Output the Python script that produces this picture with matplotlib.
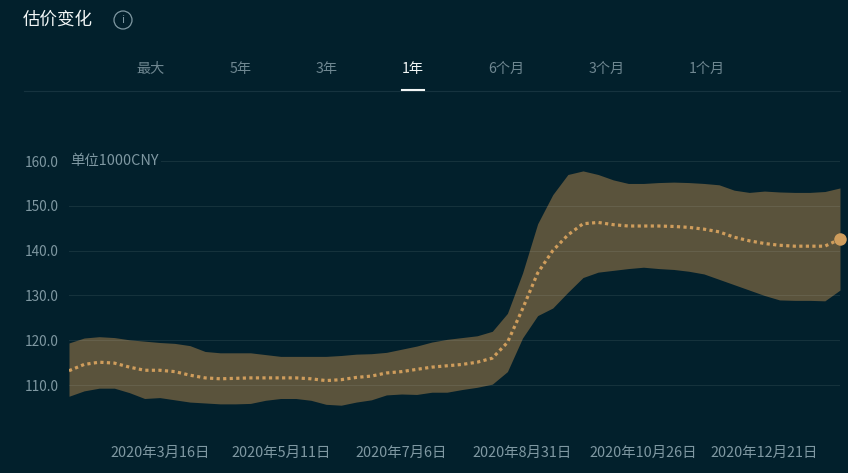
import matplotlib
matplotlib.use("Agg")
import matplotlib.pyplot as plt
import matplotlib.patches as mpatches
import pandas as pd

plt.rcParams["font.family"] = ["Noto Sans CJK SC", "DejaVu Sans"]

W, H = 848, 473
BG = "#02202c"

mid = [113.2, 114.6, 115.1, 114.9, 114.0, 113.3, 113.3, 113.0, 112.2, 111.6,
       111.4, 111.5, 111.6, 111.6, 111.6, 111.6, 111.4, 111.0, 111.2, 111.7,
       112.0, 112.7, 113.0, 113.5, 114.0, 114.3, 114.6, 115.1, 116.0, 119.5,
       127.0, 135.0, 140.0, 143.5, 146.0, 146.3, 145.8, 145.5, 145.5, 145.5,
       145.4, 145.2, 144.8, 144.2, 143.0, 142.2, 141.6, 141.2, 141.0, 141.0,
       141.0, 142.6]
upper = [119.4, 120.5, 120.8, 120.6, 120.1, 119.8, 119.5, 119.3, 118.8, 117.5,
         117.2, 117.2, 117.2, 116.8, 116.4, 116.4, 116.4, 116.4, 116.6, 116.9,
         117.0, 117.3, 118.0, 118.7, 119.6, 120.2, 120.6, 121.0, 122.0, 126.0,
         135.0, 146.0, 152.5, 157.0, 157.8, 157.0, 155.8, 155.0, 155.0, 155.2,
         155.3, 155.2, 155.0, 154.7, 153.5, 153.0, 153.3, 153.1, 153.0, 153.0,
         153.2, 154.0]
lower = [107.5, 108.7, 109.3, 109.3, 108.3, 107.0, 107.2, 106.7, 106.2, 106.0,
         105.8, 105.8, 105.9, 106.6, 107.0, 107.0, 106.6, 105.7, 105.5, 106.2,
         106.7, 107.8, 108.0, 107.9, 108.4, 108.4, 109.0, 109.5, 110.2, 113.0,
         120.5, 125.5, 127.2, 130.7, 134.0, 135.2, 135.6, 136.0, 136.3, 136.0,
         135.8, 135.4, 134.8, 133.6, 132.4, 131.2, 130.0, 129.0, 128.9, 128.9,
         128.8, 131.2]
dates = pd.date_range("2020-02-03", periods=len(mid), freq="7D")

y_ticks = [110, 120, 130, 140, 150, 160]
x_ticks = pd.to_datetime(["2020-03-16", "2020-05-11", "2020-07-06",
                          "2020-08-31", "2020-10-26", "2020-12-21"])
x_labels = ["2020年3月16日", "2020年5月11日", "2020年7月6日",
            "2020年8月31日", "2020年10月26日", "2020年12月21日"]
tabs = ["最大", "5年", "3年", "1年", "6个月", "3个月", "1个月"]
tab_x = [151, 241, 327, 413, 506, 607, 707]

fig = plt.figure(figsize=(W / 100, H / 100), dpi=100, facecolor=BG)

# axes box in pixels: x 69-840, y 140-420
ax = fig.add_axes([69 / W, 1 - 420 / H, 771 / W, 280 / H], facecolor=BG)
ax.fill_between(dates, lower, upper, color="#5a533c", linewidth=0, zorder=1)
ax.grid(axis="y", color="#d8e8e8", alpha=0.09, linewidth=0.8, zorder=2)
ax.set_axisbelow(False)
ax.plot(dates, mid, color="#cf9d5c", linewidth=2.3, linestyle=(0, (1, 1.05)),
        dash_capstyle="butt", zorder=3)
ax.plot(dates[-1], mid[-1], "o", color="#cf9d5c", markersize=9, markeredgewidth=0,
        clip_on=False, zorder=4)

ax.set_xlim(dates[0], dates[-1])
ax.set_ylim(102.2, 164.7)
ax.set_yticks(y_ticks, [f"{v:.1f}" for v in y_ticks])
ax.set_xticks(x_ticks, x_labels)
ax.tick_params(axis="y", length=0, pad=7.5, labelsize=9.8, labelcolor="#7f98a2")
ax.tick_params(axis="x", length=0, pad=19, labelsize=10.4, labelcolor="#7f98a2")
for s in ax.spines.values():
    s.set_visible(False)
ax.text(70 / W, 1 - 161.5 / H, "单位1000CNY", transform=fig.transFigure,
        color="#7f98a2", fontsize=10.4, va="center", ha="left",
        bbox=dict(facecolor=BG, edgecolor="none", pad=1.5))

# header
fig.text(23 / W, 1 - 19.5 / H, "估价变化", color="#f2f6f6", fontsize=12.6, weight="medium",
         va="center", ha="left")
fig.add_artist(mpatches.Ellipse((123 / W, 1 - 20 / H), 18 / W, 18 / H, facecolor="none",
                                edgecolor="#7f98a2", linewidth=0.9))
fig.text(123 / W, 1 - 20 / H, "i", color="#7f98a2", fontsize=8, va="center", ha="center")
for label, x in zip(tabs, tab_x):
    active = label == "1年"
    fig.text(x / W, 1 - 68.5 / H, label, color="#f2f6f6" if active else "#6f8791",
             fontsize=10.2, va="center", ha="center")
fig.add_artist(plt.Line2D([24 / W, 840 / W], [1 - 91.5 / H, 1 - 91.5 / H],
                          color="#16333f", linewidth=0.8))
fig.add_artist(plt.Line2D([402 / W, 424 / W], [1 - 90 / H, 1 - 90 / H],
                          color="#f2f6f6", linewidth=1.5))

fig.savefig("out.png", dpi=100, facecolor=BG)
plt.close(fig)
